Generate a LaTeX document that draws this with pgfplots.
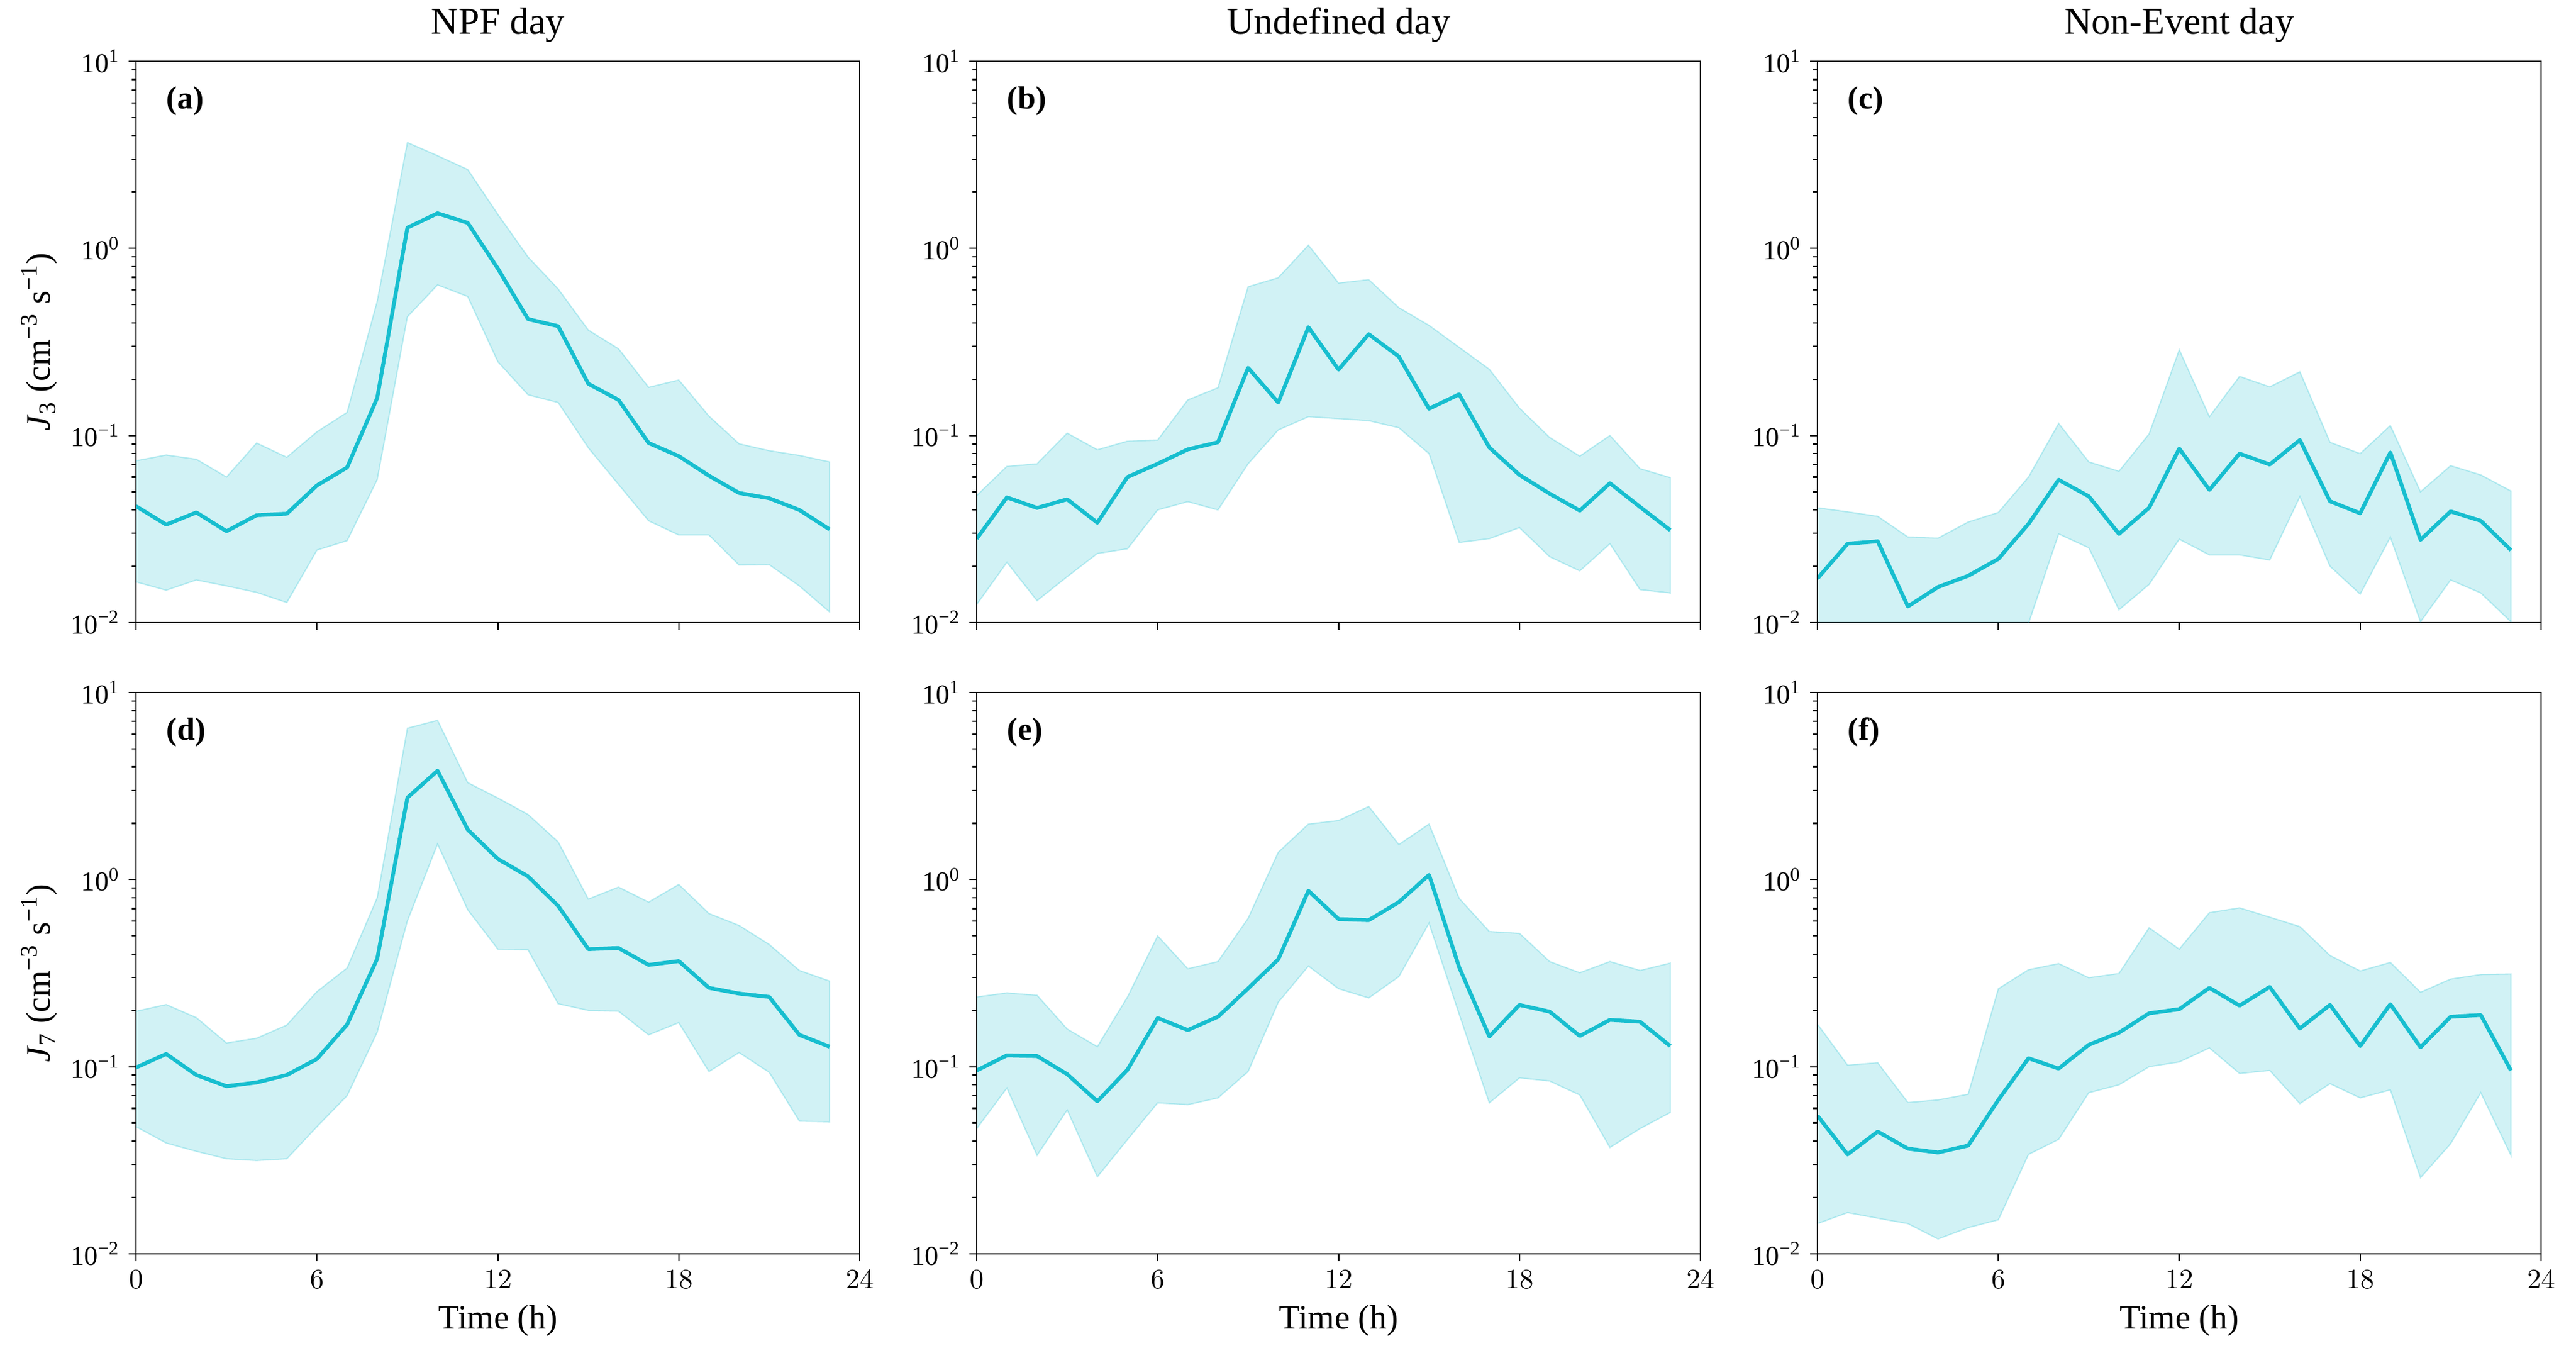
\documentclass[border=0pt]{standalone}
\usepackage{fontspec}
\setmainfont{Liberation Serif}
\usepackage{pgfplots}
\pgfplotsset{compat=1.18}
\definecolor{tcyan}{RGB}{23,190,207}

\tikzset{
  band/.style={fill=tcyan, fill opacity=0.2, draw=tcyan, draw opacity=0.25, line width=0.5bp},
  meanline/.style={tcyan, line width=1.5bp, line join=round},
  plabel/.style={anchor=north west, inner sep=0pt, font=\bfseries\fontsize{12.5bp}{14bp}\selectfont},
}

\pgfplotsset{jp/.style={
  scale only axis, width=283.44bp, height=219.84bp,
  anchor=south west,
  xmin=0, xmax=24, ymin=0.01, ymax=10,
  xtick={0,6,12,18,24}, ytick={0.01,0.1,1,10},
  yticklabels={\textnormal{10\textsuperscript{−2}},\textnormal{10\textsuperscript{−1}},\textnormal{10\textsuperscript{0}},\textnormal{10\textsuperscript{1}}},
  tick pos=left, tick align=outside,
  major tick length=2.9bp, minor tick length=1.7bp,
  tick style={black, line width=0.55bp},
  axis line style={line width=0.6bp},
  ticklabel style={font=\fontsize{10.7bp}{12bp}\selectfont},
  x label style={at={(axis description cs:0.5,-0.1192)}, anchor=center, font=\fontsize{13.4bp}{15bp}\selectfont},
  y label style={at={(axis description cs:-0.1337,0.5)}, anchor=center, font=\fontsize{13.4bp}{15bp}\selectfont},
  title style={at={(axis description cs:0.5,1)}, anchor=base, yshift=4.8bp, font=\fontsize{14.8bp}{16bp}\selectfont},
}}

\begin{document}
\begin{tikzpicture}
\path[use as bounding box] (0,0) rectangle (1008.96bp,531.6bp);

% (a)
\begin{axis}[jp, ymode=log, at={(53.28bp,287.76bp)}, title={NPF day}, xticklabels={},
  ylabel={\textit{J}\textsubscript{3} (cm\textsuperscript{−3} s\textsuperscript{−1})}]
\addplot[band] coordinates {(0,0.0733)(1,0.0787)(2,0.0747)(3,0.0600)(4,0.0912)(5,0.0765)(6,0.1047)(7,0.133)(8,0.523)(9,3.68)(10,3.13)(11,2.64)(12,1.52)(13,0.90)(14,0.607)(15,0.366)(16,0.291)(17,0.181)(18,0.198)(19,0.127)(20,0.0903)(21,0.083)(22,0.0783)(23,0.0723)
 (23,0.0114)(22,0.0157)(21,0.0204)(20,0.0203)(19,0.0294)(18,0.0294)(17,0.035)(16,0.0548)(15,0.0859)(14,0.150)(13,0.165)(12,0.248)(11,0.553)(10,0.638)(9,0.431)(8,0.0582)(7,0.0274)(6,0.0244)(5,0.0128)(4,0.0145)(3,0.0157)(2,0.0169)(1,0.0149)(0,0.0165)};
\addplot[meanline] coordinates {(0,0.0419)(1,0.0334)(2,0.0388)(3,0.0308)(4,0.0375)(5,0.0382)(6,0.0541)(7,0.0675)(8,0.159)(9,1.29)(10,1.54)(11,1.37)(12,0.78)(13,0.419)(14,0.384)(15,0.189)(16,0.155)(17,0.0912)(18,0.0776)(19,0.061)(20,0.0493)(21,0.0462)(22,0.040)(23,0.0315)};
\node[plabel] at (rel axis cs:0.0415,0.956) {(a)};
\end{axis}

% (b)
\begin{axis}[jp, ymode=log, at={(382.56bp,287.76bp)}, title={Undefined day}, xticklabels={}]
\addplot[band] coordinates {(0,0.0478)(1,0.0684)(2,0.0706)(3,0.103)(4,0.0839)(5,0.0933)(6,0.0946)(7,0.155)(8,0.180)(9,0.624)(10,0.697)(11,1.04)(12,0.653)(13,0.681)(14,0.482)(15,0.388)(16,0.296)(17,0.226)(18,0.140)(19,0.0977)(20,0.0776)(21,0.100)(22,0.0665)(23,0.0596)
 (23,0.0144)(22,0.015)(21,0.0264)(20,0.0189)(19,0.0225)(18,0.0322)(17,0.0281)(16,0.0268)(15,0.080)(14,0.110)(13,0.120)(12,0.123)(11,0.126)(10,0.107)(9,0.0706)(8,0.040)(7,0.0443)(6,0.040)(5,0.0248)(4,0.0234)(3,0.0176)(2,0.0131)(1,0.021)(0,0.0125)};
\addplot[meanline] coordinates {(0,0.0281)(1,0.0467)(2,0.041)(3,0.0456)(4,0.0342)(5,0.060)(6,0.0706)(7,0.0843)(8,0.092)(9,0.23)(10,0.150)(11,0.379)(12,0.225)(13,0.348)(14,0.264)(15,0.139)(16,0.166)(17,0.0863)(18,0.0616)(19,0.0489)(20,0.0397)(21,0.0556)(22,0.0415)(23,0.0312)};
\node[plabel] at (rel axis cs:0.0415,0.956) {(b)};
\end{axis}

% (c)
\begin{axis}[jp, ymode=log, at={(711.84bp,287.76bp)}, title={Non-Event day}, xticklabels={}]
\addplot[band] coordinates {(0,0.0411)(1,0.0391)(2,0.037)(3,0.0287)(4,0.0283)(5,0.0345)(6,0.0388)(7,0.060)(8,0.116)(9,0.0723)(10,0.0644)(11,0.102)(12,0.287)(13,0.126)(14,0.207)(15,0.182)(16,0.219)(17,0.092)(18,0.080)(19,0.113)(20,0.050)(21,0.069)(22,0.0616)(23,0.0505)
 (23,0.0101)(22,0.0144)(21,0.0169)(20,0.0101)(19,0.0286)(18,0.0142)(17,0.020)(16,0.0471)(15,0.0216)(14,0.023)(13,0.023)(12,0.0279)(11,0.016)(10,0.0117)(9,0.0251)(8,0.0298)(7,0.0099)(6,0.008)(5,0.007)(4,0.006)(3,0.006)(2,0.006)(1,0.006)(0,0.006)};
\addplot[meanline] coordinates {(0,0.0172)(1,0.0264)(2,0.0272)(3,0.0122)(4,0.0155)(5,0.0178)(6,0.0219)(7,0.0337)(8,0.058)(9,0.0473)(10,0.0298)(11,0.0411)(12,0.0851)(13,0.0512)(14,0.080)(15,0.070)(16,0.0946)(17,0.0445)(18,0.0384)(19,0.0812)(20,0.0277)(21,0.0393)(22,0.035)(23,0.0244)};
\node[plabel] at (rel axis cs:0.0415,0.956) {(c)};
\end{axis}

% (d)
\begin{axis}[jp, ymode=log, at={(53.28bp,40.56bp)}, xlabel={Time (h)},
  ylabel={\textit{J}\textsubscript{7} (cm\textsuperscript{−3} s\textsuperscript{−1})}]
\addplot[band] coordinates {(0,0.198)(1,0.215)(2,0.183)(3,0.134)(4,0.142)(5,0.167)(6,0.252)(7,0.337)(8,0.801)(9,6.44)(10,7.10)(11,3.30)(12,2.73)(13,2.23)(14,1.59)(15,0.787)(16,0.912)(17,0.758)(18,0.942)(19,0.659)(20,0.569)(21,0.450)(22,0.327)(23,0.287)
 (23,0.0507)(22,0.0512)(21,0.0933)(20,0.119)(19,0.0942)(18,0.172)(17,0.148)(16,0.198)(15,0.200)(14,0.217)(13,0.421)(12,0.425)(11,0.690)(10,1.55)(9,0.601)(8,0.153)(7,0.070)(6,0.0478)(5,0.0322)(4,0.0315)(3,0.0322)(2,0.0353)(1,0.0391)(0,0.0478)};
\addplot[meanline] coordinates {(0,0.099)(1,0.117)(2,0.0903)(3,0.0787)(4,0.0824)(5,0.0903)(6,0.110)(7,0.168)(8,0.378)(9,2.74)(10,3.82)(11,1.85)(12,1.29)(13,1.04)(14,0.723)(15,0.425)(16,0.431)(17,0.350)(18,0.367)(19,0.264)(20,0.246)(21,0.236)(22,0.148)(23,0.128)};
\node[plabel] at (rel axis cs:0.0415,0.956) {(d)};
\end{axis}

% (e)
\begin{axis}[jp, ymode=log, at={(382.56bp,40.56bp)}, xlabel={Time (h)}]
\addplot[band] coordinates {(0,0.236)(1,0.248)(2,0.241)(3,0.159)(4,0.128)(5,0.236)(6,0.500)(7,0.334)(8,0.365)(9,0.621)(10,1.40)(11,1.98)(12,2.07)(13,2.46)(14,1.54)(15,1.98)(16,0.794)(17,0.528)(18,0.516)(19,0.365)(20,0.318)(21,0.365)(22,0.327)(23,0.358)
 (23,0.0569)(22,0.0467)(21,0.037)(20,0.0706)(19,0.0839)(18,0.0871)(17,0.0641)(16,0.191)(15,0.585)(14,0.303)(13,0.233)(12,0.261)(11,0.345)(10,0.221)(9,0.0942)(8,0.0681)(7,0.0627)(6,0.0641)(5,0.0408)(4,0.0258)(3,0.0587)(2,0.0336)(1,0.0769)(0,0.0467)};
\addplot[meanline] coordinates {(0,0.0955)(1,0.115)(2,0.114)(3,0.0912)(4,0.0653)(5,0.0964)(6,0.182)(7,0.157)(8,0.185)(9,0.262)(10,0.375)(11,0.871)(12,0.615)(13,0.607)(14,0.758)(15,1.06)(16,0.34)(17,0.145)(18,0.214)(19,0.197)(20,0.146)(21,0.178)(22,0.174)(23,0.129)};
\node[plabel] at (rel axis cs:0.0415,0.956) {(e)};
\end{axis}

% (f)
\begin{axis}[jp, ymode=log, at={(711.84bp,40.56bp)}, xlabel={Time (h)}]
\addplot[band] coordinates {(0,0.169)(1,0.102)(2,0.105)(3,0.0644)(4,0.0665)(5,0.0713)(6,0.261)(7,0.330)(8,0.356)(9,0.299)(10,0.315)(11,0.553)(12,0.425)(13,0.666)(14,0.707)(15,0.630)(16,0.561)(17,0.393)(18,0.325)(19,0.361)(20,0.250)(21,0.294)(22,0.311)(23,0.313)
 (23,0.0336)(22,0.0726)(21,0.0388)(20,0.0255)(19,0.0752)(18,0.0681)(17,0.0812)(16,0.0635)(15,0.0955)(14,0.092)(13,0.126)(12,0.106)(11,0.100)(10,0.080)(9,0.0726)(8,0.0409)(7,0.034)(6,0.0152)(5,0.0138)(4,0.0120)(3,0.0145)(2,0.0155)(1,0.0166)(0,0.0145)};
\addplot[meanline] coordinates {(0,0.0548)(1,0.034)(2,0.045)(3,0.0365)(4,0.0348)(5,0.0379)(6,0.0665)(7,0.111)(8,0.0977)(9,0.131)(10,0.152)(11,0.193)(12,0.203)(13,0.264)(14,0.212)(15,0.267)(16,0.160)(17,0.214)(18,0.129)(19,0.216)(20,0.127)(21,0.185)(22,0.189)(23,0.0955)};
\node[plabel] at (rel axis cs:0.0415,0.956) {(f)};
\end{axis}
\end{tikzpicture}
\end{document}
